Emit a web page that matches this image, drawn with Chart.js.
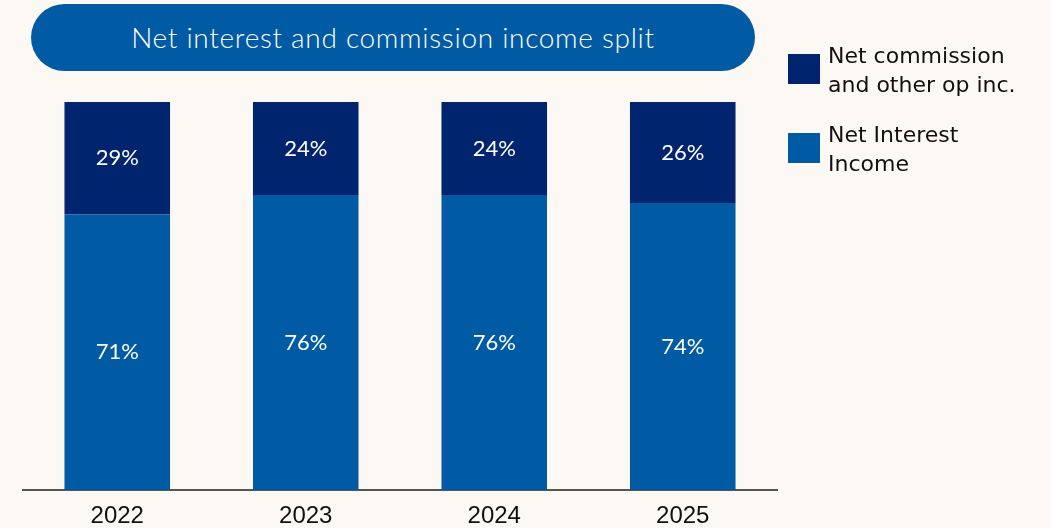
<!DOCTYPE html>
<html>
<head>
<meta charset="utf-8">
<script src="https://cdn.jsdelivr.net/npm/chart.js@4"></script>
<style>
  html, body { margin: 0; padding: 0; background: #FCF8F4; }
  #wrap { position: relative; width: 1051px; height: 528px; overflow: hidden; }
  #splitChart { position: absolute; left: 0; top: 0; }
  .pill {
    position: absolute; left: 31px; top: 4px; width: 724px; height: 67px;
    border-radius: 34px; background: #005BA4; color: #fff;
    font: 300 28px "Lato", sans-serif; letter-spacing: 0.7px; line-height: 67px; text-align: center;
  }
  .legend { position: absolute; left: 788px; font: 22px "DejaVu Sans", sans-serif; color: #111; }
  .legend .box { position: absolute; left: 0; top: 0; width: 32px; height: 30px; }
  .legend .txt { position: absolute; left: 40px; top: -13px; line-height: 29px; white-space: nowrap; }
</style>
</head>
<body>
<div id="wrap">
  <canvas id="splitChart" width="1051" height="528"></canvas>
  <div class="pill">Net interest and commission income split</div>
  <div class="legend" style="top:54px"><div class="box" style="background:#00246E"></div><div class="txt">Net commission<br>and other op inc.</div></div>
  <div class="legend" style="top:133px"><div class="box" style="background:#005BA4"></div><div class="txt">Net Interest<br>Income</div></div>
</div>
<script>
var years = ["2022", "2023", "2024", "2025"];
var netInterest = [71, 76, 76, 74];
var netCommission = [29, 24, 24, 26];

// write the % inside each bar segment
var segmentLabels = {
  id: "segmentLabels",
  afterDatasetsDraw: function (chart) {
    let ctx = chart.ctx;
    ctx.save();
    ctx.fillStyle = "#fff";
    ctx.font = "22px Lato, sans-serif";
    ctx.textAlign = "center";
    ctx.textBaseline = "middle";
    chart.data.datasets.forEach(function (ds, i) {
      chart.getDatasetMeta(i).data.forEach(function (bar, j) {
        ctx.fillText(ds.data[j] + "%", bar.x, (bar.y + bar.base) / 2);
      });
    });
    ctx.restore();
  }
};

new Chart(document.getElementById("splitChart").getContext("2d"), {
  type: "bar",
  data: {
    labels: years,
    datasets: [
      { label: "Net Interest Income", data: netInterest, backgroundColor: "#005BA4" },
      { label: "Net commission and other op inc.", data: netCommission, backgroundColor: "#00246E" }
    ]
  },
  options: {
    responsive: false,
    animation: false,
    barPercentage: 0.56,
    categoryPercentage: 1,
    layout: { padding: { top: 102, left: 23, right: 274, bottom: 0 } },
    plugins: { legend: { display: false }, tooltip: { enabled: false } },
    scales: {
      x: {
        stacked: true,
        grid: { display: false, drawTicks: false },
        border: { display: true, color: "#555", width: 2 },
        ticks: { color: "#111", font: { family: "Liberation Sans", size: 24 }, padding: 12 },
        afterFit: function (scale) { scale.height = 38; }
      },
      y: { stacked: true, display: false, min: 0, max: 100 }
    }
  },
  plugins: [segmentLabels]
});
</script>
</body>
</html>
